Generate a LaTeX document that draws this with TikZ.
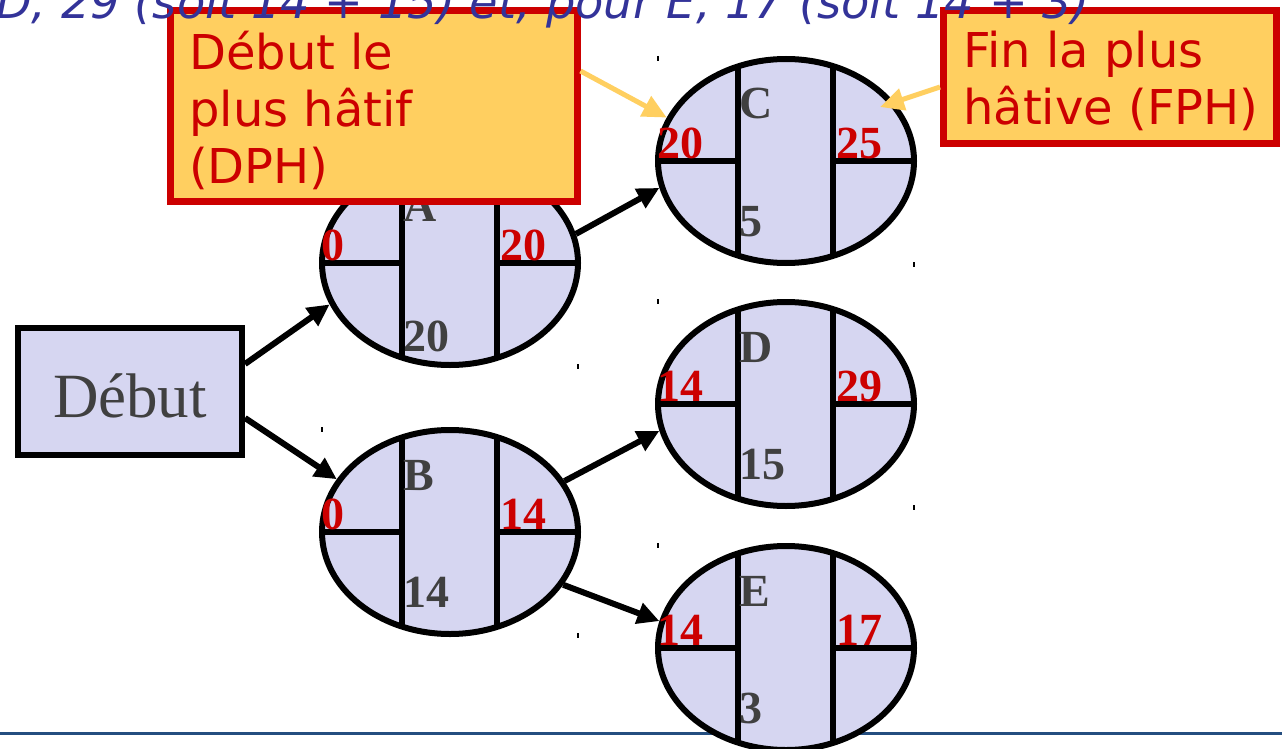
\documentclass[tikz,border=0pt]{standalone}
\usepackage{fontspec}
\usetikzlibrary{shapes.geometric,arrows.meta}
\newfontfamily\dejavu{DejaVu Sans}
\newfontfamily\libserif{Liberation Serif}
\definecolor{nodefill}{RGB}{214,214,241}
\definecolor{alertred}{RGB}{204,0,0}
\definecolor{callout}{RGB}{255,207,96}
\definecolor{inkgray}{RGB}{64,64,64}
\definecolor{titleblue}{RGB}{51,51,153}
\definecolor{rulecolor}{RGB}{36,78,128}

% labels of a task ellipse: node, letter, duration, duration offset, early start, early finish
\newcommand\pertlabels[6]{%
  \node[tasklabel] (#1-letter) at ([shift={(-47,-42)}]#1.center) {#2};
  \node[tasklabel] (#1-dur) at ([shift={(-47,#4)}]#1.center) {#3};
  \node[datelabel] (#1-es) at ([shift={(-129,-3)}]#1.center) {#5};
  \node[datelabel] (#1-ef) at ([shift={(50,-3)}]#1.center) {#6};
}

\begin{document}
\begin{tikzpicture}[x=1pt,y=-1pt,
  task/.style={ellipse, draw, line width=6pt, fill=nodefill,
    minimum width=256pt, minimum height=204pt, inner sep=0pt,
    path picture={
      \coordinate (pc) at (path picture bounding box.center);
      \draw[line width=6pt]
        ([shift={(-48,-130)}]pc) -- ([shift={(-48,130)}]pc)
        ([shift={(47,-130)}]pc) -- ([shift={(47,130)}]pc)
        ([shift={(-140,0)}]pc) -- ([shift={(-48,0)}]pc)
        ([shift={(47,0)}]pc) -- ([shift={(140,0)}]pc);
    }},
  tasklabel/.style={anchor=base west, inner sep=0pt, text=inkgray,
    font=\libserif\bfseries\fontsize{46}{50}\selectfont},
  datelabel/.style={tasklabel, text=alertred},
  startbox/.style={rectangle, draw, line width=6pt, fill=nodefill,
    minimum width=224pt, minimum height=127pt, inner sep=0pt, text=inkgray,
    font=\libserif\fontsize{63}{70}\selectfont, text height=51pt, text depth=0pt},
  conn/.style={line width=6pt, -{Triangle[length=22pt,width=21pt]}},
  calloutbox/.style={rectangle, draw=alertred, line width=7pt, fill=callout, inner sep=0pt},
  callouttext/.style={anchor=north west, inner sep=0pt, align=left, text=alertred,
    font=\dejavu\fontsize{48}{57}\selectfont},
  pointer/.style={draw=callout, line width=5pt, -{Triangle[length=24pt,width=22pt]}},
  tickmark/.style={line width=1.2pt, black}
]
\useasboundingbox (0,0) rectangle (1282,749);

% slide rule at the bottom
\coordinate (rule-l) at (0,733);
\coordinate (rule-r) at (1282,733);
\draw[rulecolor, line width=3pt] (rule-l) -- (rule-r);

% task ellipses
\node[task] (A) at (450,263) {};
\node[task] (B) at (450,532) {};
\node[task] (C) at (786,161) {};
\node[task] (D) at (786,404) {};
\node[task] (E) at (786,648) {};

% small corner marks of the task frames
\foreach \n in {A,B,C,D,E}{
  \draw[tickmark] ([shift={(-128,-105)}]\n.center) -- ++(0,5);
  \draw[tickmark] ([shift={(128,101)}]\n.center) -- ++(0,5);
}

\pertlabels{A}{A}{20}{88}{0}{20}
\pertlabels{B}{B}{14}{75}{0}{14}
\pertlabels{C}{C}{5}{75}{20}{25}
\pertlabels{D}{D}{15}{75}{14}{29}
\pertlabels{E}{E}{3}{75}{14}{17}

% start node
\node[startbox] (debut) at (130,391.5) {Début};

% precedence arrows
\draw[conn] ([yshift=27.5pt]debut.east) -- (A.199);
\draw[conn] ([yshift=-26.5pt]debut.east) -- (B.155);
\draw[conn] (A.13) -- (C.192);
\draw[conn] (B.24) -- (D.192);
\draw[conn] (B.335) -- (E.168);

% callouts
\node[calloutbox, minimum width=407pt, minimum height=190pt] (dph) at (373.5,106) {};
\node[callouttext] (dph-text) at (189,31) {Début le\\plus hâtif\\(DPH)};
\node[calloutbox, minimum width=333pt, minimum height=133pt] (fph) at (1110,77) {};
\node[callouttext] (fph-text) at (963,31) {Fin la plus\\hâtive (FPH)};

\draw[pointer] ([yshift=35pt]dph.east) -- (C.160);
\coordinate (fph-tip) at ([shift={(94,-54)}]C.center);
\draw[pointer] ([yshift=-10pt]fph.west) -- (fph-tip);

% heading line, partly above the frame
\node[anchor=base west, inner sep=0pt, text=titleblue,
  font=\dejavu\itshape\fontsize{46.3}{50}\selectfont] (title) at (-4,19)
  {D, 29 (soit 14 + 15) et, pour E, 17 (soit 14 + 3)};
\end{tikzpicture}
\end{document}
